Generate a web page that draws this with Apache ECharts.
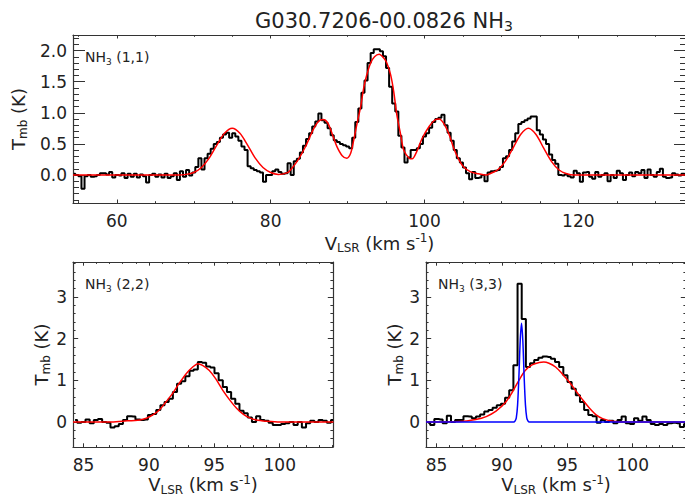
<!DOCTYPE html>
<html>
<head>
<meta charset="utf-8">
<script src="https://cdn.jsdelivr.net/npm/echarts@6/dist/echarts.min.js"></script>
<style>
  html, body { margin: 0; padding: 0; background: #fff; }
  #chart { width: 685px; height: 496px; }
</style>
</head>
<body>
<div id="chart"></div>
<script>
// NH3 (1,1) spectrum, channels of 0.4 km/s starting at 54.4 km/s
var start11 = 54.4, step11 = 0.4;
var spec11 = [
  0.02, 0.00, -0.02, -0.22, -0.02, 0.00, -0.03, -0.02, 0.00, 0.03,
  0.03, 0.01, 0.05, -0.04, 0.00, -0.01, 0.03, -0.05, 0.02, -0.03,
  0.02, -0.04, 0.01, -0.02, -0.12, 0.00, 0.02, -0.03, 0.01, -0.04,
  0.02, -0.05, -0.02, 0.03, -0.08, 0.06, -0.03, 0.08, -0.01, 0.04,
  0.13, 0.27, 0.09, 0.27, 0.34, 0.42, 0.50, 0.53, 0.60, 0.65,
  0.68, 0.60, 0.67, 0.62, 0.55, 0.46, 0.40, 0.14, 0.11, 0.08,
  0.06, 0.04, -0.11, 0.00, 0.00, 0.06, 0.09, 0.05, 0.02, 0.03,
  0.19, 0.00, 0.22, 0.26, 0.36, 0.47, 0.58, 0.67, 0.78, 0.86,
  0.99, 0.88, 0.84, 0.75, 0.64, 0.56, 0.53, 0.50, 0.48, 0.46,
  0.43, 0.60, 0.85, 1.07, 1.32, 1.52, 1.80, 1.96, 2.02, 2.02,
  1.99, 1.91, 1.72, 1.42, 1.15, 1.02, 0.63, 0.44, 0.20, 0.28,
  0.40, 0.40, 0.43, 0.50, 0.62, 0.67, 0.76, 0.85, 0.90, 0.92,
  0.97, 0.80, 0.68, 0.55, 0.40, 0.27, 0.20, 0.12, 0.03, -0.07,
  0.05, -0.05, -0.04, 0.00, -0.10, 0.04, 0.06, 0.07, 0.08, 0.13,
  0.27, 0.30, 0.40, 0.54, 0.67, 0.82, 0.85, 0.88, 0.91, 0.94,
  0.94, 0.72, 0.65, 0.57, 0.50, 0.33, 0.24, 0.18, 0.00, -0.01,
  0.01, -0.02, -0.04, 0.07, 0.03, -0.11, 0.04, 0.05, -0.03, -0.06,
  0.05, -0.03, 0.00, 0.03, -0.10, 0.00, -0.05, 0.07, 0.03, -0.08,
  0.00, 0.04, -0.02, 0.05, 0.03, 0.08, -0.05, 0.09, 0.00, -0.03,
  0.05, 0.10, -0.03, -0.05, -0.04, 0.03, 0.01, -0.01, 0.02, 0.00
];
// hyperfine fit to (1,1)
var fit11V = [54.3, 68, 69, 70, 71, 72, 73, 74, 75, 76, 77, 78, 79, 80, 81, 82, 82.5, 83.5, 84.5, 85.5,
  86.2, 86.8, 87.4, 88, 88.6, 89.3, 89.9, 90.4, 90.8, 91.2, 91.7, 92.1, 92.5, 93, 93.5, 94.1, 94.7, 95.1, 95.6, 96,
  96.4, 96.9, 97.3, 98, 98.4, 99, 99.7, 100.6, 101.3, 101.9, 102.5, 103.2, 103.8, 104.5, 105.1, 106, 107, 108, 108.5, 109.5,
  110.5, 111.5, 112.5, 113.5, 114.5, 115.5, 116.5, 117.5, 118.5, 119.5, 134];
var fit11T = [0, 0, 0.01, 0.04, 0.12, 0.27, 0.48, 0.67, 0.75, 0.67, 0.48, 0.27, 0.12, 0.04, 0.01, 0.03, 0.07, 0.23, 0.45, 0.72,
  0.86, 0.89, 0.84, 0.66, 0.46, 0.31, 0.27, 0.35, 0.56, 0.81, 1.10, 1.40, 1.61, 1.80, 1.90, 1.94, 1.88, 1.80, 1.61, 1.34,
  0.97, 0.65, 0.40, 0.27, 0.26, 0.38, 0.59, 0.78, 0.88, 0.90, 0.83, 0.65, 0.43, 0.24, 0.13, 0.05, 0.02, 0.0, 0.02, 0.08,
  0.22, 0.43, 0.65, 0.75, 0.65, 0.43, 0.22, 0.08, 0.02, 0.0, 0];

// (2,2) and (3,3) spectra, channels of 0.318 km/s starting at 84.36 km/s
var startLow = 84.36, stepLow = 0.318;
var spec22 = [
  0.05, -0.02, 0.00, 0.06, -0.03, 0.05, 0.07, 0.00, -0.02, -0.13,
  -0.10, -0.05, 0.05, 0.14, 0.13, 0.06, 0.05, 0.06, 0.17, 0.19,
  0.29, 0.40, 0.48, 0.56, 0.72, 0.92, 0.98, 1.10, 1.23, 1.26,
  1.44, 1.42, 1.33, 1.31, 1.17, 1.00, 0.84, 0.72, 0.56, 0.44,
  0.27, 0.21, 0.11, 0.00, 0.14, 0.05, 0.03, -0.02, -0.07, -0.07,
  -0.05, -0.03, 0.00, -0.07, 0.00, -0.13, -0.03, 0.03, 0.00, 0.05,
  0.03, -0.02, 0.05
];
var spec33 = [
  -0.02, -0.07, 0.07, 0.06, -0.03, 0.15, 0.00, 0.05, 0.05, 0.14,
  0.13, 0.09, 0.13, 0.18, 0.25, 0.29, 0.34, 0.40, 0.44, 0.58,
  0.76, 1.36, 3.32, 2.47, 1.32, 1.41, 1.49, 1.54, 1.57, 1.56,
  1.52, 1.44, 1.32, 1.12, 0.96, 0.80, 0.64, 0.48, 0.29, 0.17,
  0.14, -0.02, 0.05, 0.00, 0.03, -0.03, 0.05, 0.13, -0.03, -0.05,
  0.09, 0.03, 0.13, 0.05, -0.05, -0.07, -0.05, -0.07, -0.03, -0.02,
  -0.03, -0.12, -0.05
];
var fit22V = [84.2, 87, 88, 89.3, 89.8, 90.3, 90.8, 91.3, 91.8, 92.3, 92.85, 93.35, 93.75, 94.1, 94.6, 95.1, 95.65, 96.2, 96.7, 97.2, 97.7, 98.2, 99, 100, 104.1];
var fit22T = [0, 0, 0.02, 0.05, 0.09, 0.17, 0.29, 0.48, 0.68, 0.92, 1.16, 1.32, 1.40, 1.36, 1.24, 1.04, 0.76, 0.52, 0.33, 0.19, 0.10, 0.05, 0.02, 0, 0];
var fit33V = [84.2, 86.75, 88.0, 88.8, 89.55, 90.3, 90.8, 91.3, 91.8, 92.3, 92.85, 93.2, 93.6, 94.1, 94.6, 95.15, 95.65, 96.2, 96.7, 97.2, 97.7, 98.45, 99.5, 104.1];
var fit33T = [0, 0.01, 0.06, 0.13, 0.26, 0.48, 0.72, 1.0, 1.24, 1.37, 1.43, 1.44, 1.41, 1.32, 1.16, 0.96, 0.75, 0.52, 0.33, 0.17, 0.08, 0.02, 0, 0];
var narrowV = [84.2, 90.9, 91.0, 91.1, 91.2, 91.3, 91.4, 91.5, 91.6, 91.7, 91.8, 91.9, 92.0, 92.1, 104.1];
var narrowT = [0, 0, 0.02, 0.1, 0.41, 1.09, 1.95, 2.37, 1.95, 1.09, 0.41, 0.1, 0.02, 0, 0];

// tick marks
var topXMajor = [60, 80, 100, 120];
var topXMinor = [55, 65, 70, 75, 85, 90, 95, 105, 110, 115, 125, 130];
var topYMajor = [0, 0.5, 1.0, 1.5, 2.0];
var topYMinor = [-0.4, -0.3, -0.2, -0.1, 0.1, 0.2, 0.3, 0.4, 0.6, 0.7, 0.8, 0.9, 1.1, 1.2, 1.3, 1.4, 1.6, 1.7, 1.8, 1.9, 2.1, 2.2];
var lowXMajor = [85, 90, 95, 100];
var lowXMinor = [86, 87, 88, 89, 91, 92, 93, 94, 96, 97, 98, 99, 101, 102, 103, 104];
var lowYMajor = [0, 1, 2, 3];
var lowYMinor = [-0.4, -0.2, 0.2, 0.4, 0.6, 0.8, 1.2, 1.4, 1.6, 1.8, 2.2, 2.4, 2.6, 2.8, 3.2, 3.4, 3.6, 3.8];

var FONT = 'DejaVu Sans';
var ink = '#222';
var frame = '#333';

function channels(start, step, vals) {
  return vals.map(function (t, i) { return [+(start + step * i).toFixed(3), t]; });
}
function pairs(vs, ts) {
  return vs.map(function (v, i) { return [v, ts[i]]; });
}
function richStyles(size) {
  var small = Math.round(size * 0.66);
  var lh = Math.round(size * 0.4);
  return {
    a: { fontSize: size, lineHeight: size + 4, fontFamily: FONT, fontWeight: 'normal', color: ink },
    s: { fontSize: small, lineHeight: lh, fontFamily: FONT, fontWeight: 'normal', color: ink, verticalAlign: 'bottom' },
    p: { fontSize: small, lineHeight: lh, fontFamily: FONT, fontWeight: 'normal', color: ink, verticalAlign: 'top' }
  };
}

var xName = '{a|V}{s|LSR}{a| (km s}{p|-1}{a|)}';
var yName = '{a|T}{s|mb}{a| (K)}';

// major + minor ticks on both sides of the box
function boxAxes(dim, gi, min, max, majors, minors, majLen, minLen, fmt, name, gap) {
  var sides = dim === 'x' ? ['bottom', 'top'] : ['left', 'right'];
  var out = [];
  sides.forEach(function (pos, s) {
    [[majors, majLen], [minors, minLen]].forEach(function (tk, m) {
      var ax = {
        type: 'value', gridIndex: gi, position: pos, min: min, max: max,
        axisLine: { show: m === 0, onZero: false, lineStyle: { color: frame, width: 1.2 } },
        axisTick: { show: true, inside: true, length: tk[1], customValues: tk[0], lineStyle: { color: frame, width: 1 } },
        axisLabel: { show: false },
        splitLine: { show: false }
      };
      if (s === 0 && m === 0) {
        ax.axisLabel = { show: true, customValues: majors, formatter: fmt, fontFamily: FONT, fontSize: 17, color: ink, margin: dim === 'x' ? 9 : 6 };
        ax.name = name;
        ax.nameLocation = 'middle';
        ax.nameGap = gap;
        ax.nameTextStyle = { fontWeight: 'normal', rich: richStyles(18) };
      }
      out.push(ax);
    });
  });
  return out;
}

function intFmt(v) { return String(Math.round(v)); }
function oneDec(v) { return v.toFixed(1); }

var xAxes = [].concat(
  boxAxes('x', 0, 54.3, 134, topXMajor, topXMinor, 3.5, 1.8, intFmt, xName, 29),
  boxAxes('x', 1, 84.2, 104.07, lowXMajor, lowXMinor, 3.7, 1.9, intFmt, xName, 26),
  boxAxes('x', 2, 84.2, 104.07, lowXMajor, lowXMinor, 3.7, 1.9, intFmt, xName, 26)
);
var yAxes = [].concat(
  boxAxes('y', 0, -0.45, 2.25, topYMajor, topYMinor, 12, 6, oneDec, yName, 34),
  boxAxes('y', 1, -0.6, 3.84, lowYMajor, lowYMinor, 5.2, 2.6, intFmt, yName, 15),
  boxAxes('y', 2, -0.6, 3.84, lowYMajor, lowYMinor, 5.2, 2.6, intFmt, yName, 15)
);

function histo(gi, data) {
  return {
    type: 'line', xAxisIndex: gi * 4, yAxisIndex: gi * 4, data: data,
    step: 'middle', symbol: 'none', silent: true,
    lineStyle: { color: '#000', width: 2 }, z: 2
  };
}
function curve(gi, data, color) {
  return {
    type: 'line', xAxisIndex: gi * 4, yAxisIndex: gi * 4, data: data,
    smooth: 0.3, symbol: 'none', silent: true,
    lineStyle: { color: color, width: 1.5 }, z: 3
  };
}

var chart = echarts.init(document.getElementById('chart'), null, { renderer: 'svg' });
chart.setOption({
  animation: false,
  backgroundColor: '#fff',
  title: [
    { text: '{a|G030.7206-00.0826 NH}{s|3}', left: 379, top: 3, textAlign: 'center',
      textStyle: { fontWeight: 'normal', rich: richStyles(21) } },
    { text: '{a|NH}{s|3}{a| (1,1)}', left: 80, top: 43, textStyle: { fontWeight: 'normal', rich: richStyles(14) } },
    { text: '{a|NH}{s|3}{a| (2,2)}', left: 80, top: 270, textStyle: { fontWeight: 'normal', rich: richStyles(14) } },
    { text: '{a|NH}{s|3}{a| (3,3)}', left: 433, top: 270, textStyle: { fontWeight: 'normal', rich: richStyles(14) } }
  ],
  grid: [
    { left: 73, top: 35, width: 613, height: 168, outerBoundsMode: 'none' },
    { left: 73, top: 262, width: 260, height: 185, outerBoundsMode: 'none' },
    { left: 426, top: 262, width: 260, height: 185, outerBoundsMode: 'none' }
  ],
  xAxis: xAxes,
  yAxis: yAxes,
  series: [
    histo(0, channels(start11, step11, spec11)),
    curve(0, pairs(fit11V, fit11T), '#ff0000'),
    histo(1, channels(startLow, stepLow, spec22)),
    curve(1, pairs(fit22V, fit22T), '#ff0000'),
    histo(2, channels(startLow, stepLow, spec33)),
    curve(2, pairs(fit33V, fit33T), '#ff0000'),
    curve(2, pairs(narrowV, narrowT), '#0000ff')
  ]
});
</script>
</body>
</html>
